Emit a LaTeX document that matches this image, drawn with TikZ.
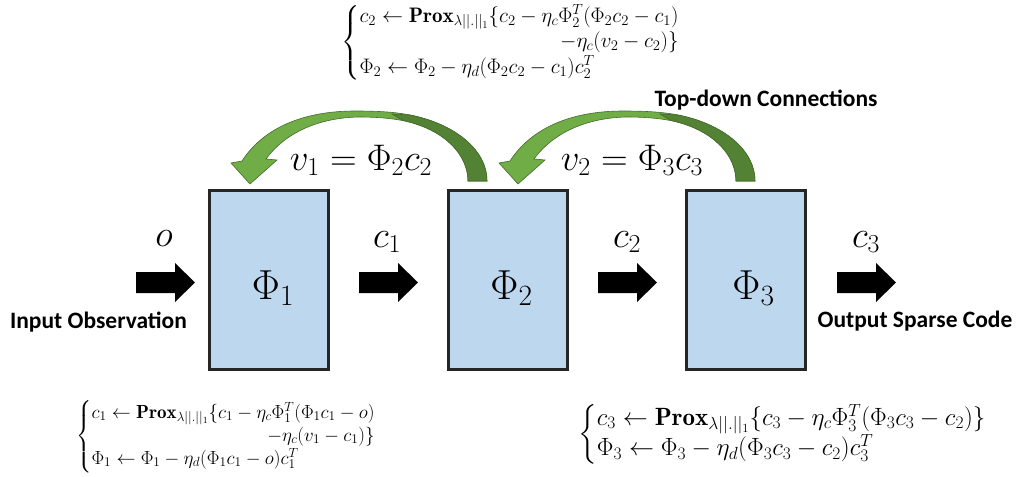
\RequirePackage{fix-cm}
\documentclass[tikz,border=0pt]{standalone}
\usepackage{amsmath}
\usepackage{fontspec}
\newfontfamily\calib{Carlito}
\usetikzlibrary{calc}
\definecolor{boxfill}{HTML}{BDD7EE}
\definecolor{boxedge}{HTML}{262626}
\definecolor{gLight}{HTML}{70AD47}
\definecolor{gDark}{HTML}{548235}
\definecolor{gEdge}{HTML}{436B2A}
\tikzset{
  blk/.style={draw=boxedge, fill=boxfill, line width=3pt, minimum width=119pt, minimum height=179pt, inner sep=0pt},
  philab/.style={font=\fontsize{42}{50}\selectfont, anchor=base, inner sep=0pt},
  siglab/.style={font=\fontsize{37}{44}\selectfont, anchor=base, inner sep=0pt},
  caplab/.style={font=\calib\bfseries\fontsize{23.5}{28}\selectfont, anchor=base, inner sep=0pt},
  eqn/.style={anchor=north west, inner sep=0pt},
  blockarr/.pic={\fill[black] (0,-10.5) -- (39,-10.5) -- (39,-19.5) -- (59,0) -- (39,19.5) -- (39,10.5) -- (0,10.5) -- cycle;},
  curvarr/.pic={
    \filldraw[fill=gLight, draw=gEdge, line width=0.6pt]
      (487,181) .. controls (487,150) and (455,124) .. (410,115)
      .. controls (395,112) and (378,111) .. (355,111)
      .. controls (300,111) and (262,130) .. (242,161)
      -- (231,163) -- (250,184) -- (277,160) -- (266,159)
      .. controls (285,133) and (318,118) .. (358,117)
      .. controls (375,117) and (390,118) .. (405,121)
      .. controls (445,130) and (468,155) .. (468,181) -- cycle;
    \filldraw[fill=gDark, draw=gEdge, line width=0.6pt]
      (410,115) .. controls (455,124) and (487,150) .. (487,181)
      -- (468,181) .. controls (468,155) and (445,130) .. (405,121)
      .. controls (400,119) .. (392,114) -- cycle;
  },
}
\begin{document}
\begin{tikzpicture}[x=1pt,y=-1pt]
\useasboundingbox (0,0) rectangle (1021,477);
% boxes
\node[blk] (b1) at (269,280) {};
\node[blk] (b2) at (507.5,280) {};
\node[blk] (b3) at (746,280) {};
\node[philab] (p1) at ($(b1.center)+(4,19)$) {$\Phi_1$};
\node[philab] (p2) at ($(b2.center)+(4,19)$) {$\Phi_2$};
\node[philab] (p3) at ($(b3.center)+(7.5,19)$) {$\Phi_3$};
% block arrows
\pic at (136,282.5) {blockarr};
\pic at (359,282.5) {blockarr};
\pic at (598,282.5) {blockarr};
\pic at (837,282.5) {blockarr};
% signal labels
\node[siglab] (lo) at (164,246) {$o$};
\node[siglab] (l1) at (387,247) {$c_1$};
\node[siglab] (l2) at (627,247) {$c_2$};
\node[siglab] (l3) at (866,247) {$c_3$};
% captions
\node[caplab] (cin) at (98.5,328) {Input Observation};
\node[caplab] (cout) at (915,327) {Output Sparse Code};
\node[caplab] (ctd) at (766,106) {Top-down Connections};
% curved arrows
\pic at (0,0) {curvarr};
\pic at (268,0) {curvarr};
\node[siglab] (v1) at (361,170) {$v_1=\Phi_2c_2$};
\node[siglab] (v2) at (632,170) {$v_2=\Phi_3c_3$};
% equations
\node[eqn, font=\fontsize{21}{25.5}\selectfont] (e2) at (341,4) {$\left\{\begin{array}{@{}l@{}}
c_2\leftarrow\mathbf{Prox}_{\lambda||.||_1}\{c_2-\eta_c\Phi_2^T(\Phi_2c_2-c_1)\\
\hfill-\eta_c(v_2-c_2)\}\\
\Phi_2\leftarrow\Phi_2-\eta_d(\Phi_2c_2-c_1)c_2^T
\end{array}\right.$};
\node[eqn, font=\fontsize{19}{23}\selectfont] (e1) at (76,400) {$\left\{\begin{array}{@{}l@{}}
c_1\leftarrow\mathbf{Prox}_{\lambda||.||_1}\{c_1-\eta_c\Phi_1^T(\Phi_1c_1-o)\\
\hfill-\eta_c(v_1-c_1)\}\\
\Phi_1\leftarrow\Phi_1-\eta_d(\Phi_1c_1-o)c_1^T
\end{array}\right.$};
\node[eqn, font=\fontsize{25}{30}\selectfont] (e3) at (578,404) {$\left\{\begin{array}{@{}l@{}}
c_3\leftarrow\mathbf{Prox}_{\lambda||.||_1}\{c_3-\eta_c\Phi_3^T(\Phi_3c_3-c_2)\}\\
\Phi_3\leftarrow\Phi_3-\eta_d(\Phi_3c_3-c_2)c_3^T
\end{array}\right.$};
\end{tikzpicture}
\end{document}
